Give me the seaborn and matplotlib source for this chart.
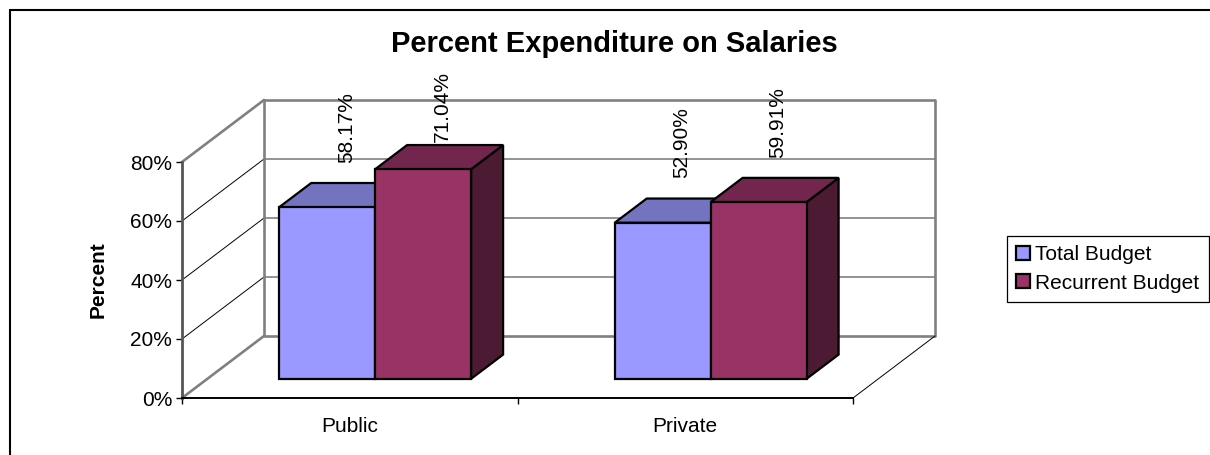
import matplotlib
matplotlib.use("Agg")
import matplotlib.pyplot as plt
import matplotlib.transforms as mtransforms
from matplotlib.patches import Polygon, Rectangle
from matplotlib.ticker import PercentFormatter, FixedLocator
import pandas as pd
import seaborn as sns

# ---- data -------------------------------------------------------------
sectors = ["Public", "Private"]
budgets = ["Total Budget", "Recurrent Budget"]
total_budget = [58.17, 52.90]
recurrent_budget = [71.04, 59.91]
y_ticks = [0, 20, 40, 60, 80]

front_colors = ["#9999FF", "#993366"]

df = pd.DataFrame({
    "Sector": sectors * 2,
    "Budget": [budgets[0]] * len(sectors) + [budgets[1]] * len(sectors),
    "Percent": total_budget + recurrent_budget,
})

# ---- style ------------------------------------------------------------
sns.set_style("white")
plt.rcParams["font.family"] = ["Liberation Sans", "DejaVu Sans"]
plt.rcParams.update({"text.color": "black", "axes.labelcolor": "black",
                     "xtick.color": "black", "ytick.color": "black"})

W, H = 1210, 455
fig = plt.figure(figsize=(W / 100, H / 100), dpi=100)
fig.patch.set_facecolor("white")

# front plane of the 3-D box (pixel box of value axis and floor edge)
ax_left, ax_right, ax_top, ax_bottom = 182, 853, 162, 398
ax = fig.add_axes([ax_left / W, 1 - ax_bottom / H,
                   (ax_right - ax_left) / W, (ax_bottom - ax_top) / H])
ax.set_facecolor("none")

sns.barplot(data=df, x="Sector", y="Percent", hue="Budget",
            order=sectors, hue_order=budgets, palette=front_colors,
            saturation=1, width=0.572, edgecolor="black", linewidth=1.6,
            ax=ax)

ax.set_xlim(-0.5, 1.5)
ax.set_ylim(0, 80)

# depth of the box, expressed in data units
sx = (ax_right - ax_left) / 2.0
sy = (ax_bottom - ax_top) / 80.0
dx, dy = 82 / sx, 62 / sy
t0, t1 = 0.31, 0.70          # bars sit between these depth fractions

# ---- walls and floor ----------------------------------------------------
wall = "#808080"
x0, x1 = -0.5, 1.5
for g in y_ticks:
    edge = g in (y_ticks[0], y_ticks[-1])
    ax.plot([x0 + dx, x1 + dx], [g + dy, g + dy], color=wall,
            lw=1.9 if edge else 1.2, clip_on=False, zorder=0.5,
            solid_capstyle="butt")
    ax.plot([x0, x0 + dx], [g, g + dy], color=wall if edge else "black",
            lw=1.9 if edge else 0.7, clip_on=False, zorder=0.5)
for xv in (x0 + dx, x1 + dx):
    ax.plot([xv, xv], [dy, 80 + dy], color=wall, lw=1.9, clip_on=False,
            zorder=0.5)
ax.plot([x1, x1 + dx], [0, dy], color="black", lw=0.7, clip_on=False,
        zorder=0.5)


def shade(rgba, f):
    return (rgba[0] * f, rgba[1] * f, rgba[2] * f, 1.0)


# ---- 3-D bars -----------------------------------------------------------
shift = mtransforms.Affine2D().translate(t0 * dx, t0 * dy) + ax.transData
bars = [b for cont in ax.containers for b in cont]
bars.sort(key=lambda b: b.get_x())
ddx, ddy = (t1 - t0) * dx, (t1 - t0) * dy
label_gap = 6.8
label_ceiling = 86.8
for k, bar in enumerate(bars):
    x, w, h = bar.get_x(), bar.get_width(), bar.get_height()
    col = bar.get_facecolor()
    z = 2 + 0.1 * k
    bar.set_transform(shift)
    bar.set_clip_on(False)
    bar.set_zorder(z + 0.03)
    top = [(x, h), (x + w, h), (x + w + ddx, h + ddy), (x + ddx, h + ddy)]
    side = [(x + w, 0), (x + w + ddx, ddy), (x + w + ddx, h + ddy), (x + w, h)]
    ax.add_patch(Polygon(side, closed=True, facecolor=shade(col, 0.5),
                         edgecolor="black", lw=1.6, joinstyle="miter",
                         transform=shift, clip_on=False, zorder=z))
    ax.add_patch(Polygon(top, closed=True, facecolor=shade(col, 0.75),
                         edgecolor="black", lw=1.6, joinstyle="miter",
                         transform=shift, clip_on=False, zorder=z + 0.01))
    lx = x + w / 2 + (t0 + t1) / 2 * dx + 0.01
    ly = min(h + t1 * dy + label_gap, label_ceiling)
    ax.text(lx, ly, f"{h:.2f}%", rotation=90, ha="center", va="bottom",
            fontsize=15, color="black", clip_on=False, zorder=5)

# ---- axes ---------------------------------------------------------------
sns.despine(ax=ax)
ax.spines["left"].set_color("#555555")
ax.spines["left"].set_linewidth(2)
ax.spines["bottom"].set_color("black")
ax.spines["bottom"].set_linewidth(1.4)

ax.yaxis.set_major_locator(FixedLocator(y_ticks))
ax.yaxis.set_major_formatter(PercentFormatter(xmax=100, decimals=0))
ax.tick_params(axis="y", which="major", left=True, length=4, width=1,
               color="black", labelcolor="black", labelsize=15, pad=3)
ax.set_xticks(range(len(sectors)))
ax.set_xticklabels(sectors)
ax.set_xticks([-0.5, 0.5, 1.5], minor=True)
ax.tick_params(axis="x", which="major", bottom=False, length=0, pad=14,
               labelcolor="black", labelsize=15)
ax.tick_params(axis="x", which="minor", bottom=True, length=4, width=1,
               color="black")
ax.set_xlabel("")
ax.set_ylabel("Percent", fontsize=15, fontweight="bold", color="black")
ax.yaxis.set_label_coords((108 - ax_left) / (ax_right - ax_left), 0.5)

sns.move_legend(ax, loc="upper left",
                bbox_to_anchor=((1007 - ax_left) / (ax_right - ax_left),
                                (ax_bottom - 236) / (ax_bottom - ax_top)),
                title=None, frameon=True, fontsize=15,
                handlelength=0.65, handleheight=0.65, handletextpad=0.25,
                labelspacing=0.45, borderpad=0.45, borderaxespad=0,
                fancybox=False, edgecolor="black", framealpha=1)
leg = ax.get_legend()
leg.get_frame().set_linewidth(0.9)
for t in leg.get_texts():
    t.set_color("black")

fig.text(614 / W, 1 - 44 / H, "Percent Expenditure on Salaries",
         ha="center", va="center", fontsize=21, fontweight="bold",
         color="black")

# chart-area border
fig.add_artist(Rectangle((10 / W, -0.5), 2, 1 - 10 / H + 0.5,
                         transform=fig.transFigure, fill=False,
                         edgecolor="black", lw=1.5))

fig.savefig("out.png", dpi=100, facecolor="white")
